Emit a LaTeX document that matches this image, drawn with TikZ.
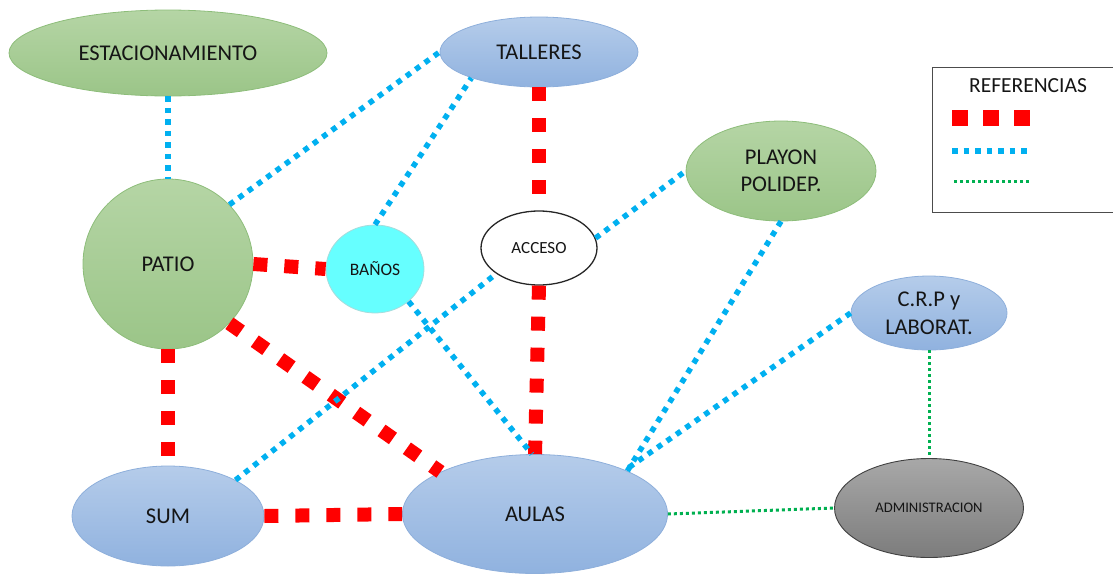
\documentclass[tikz,border=0pt]{standalone}
\usepackage{fontspec}
\setmainfont{Carlito}
\usetikzlibrary{shapes.geometric}
\definecolor{gtop}{HTML}{B5D5A5}
\definecolor{gbot}{HTML}{9BC588}
\definecolor{gbrd}{HTML}{8DBD7A}
\definecolor{btop}{HTML}{B5CCEA}
\definecolor{bbot}{HTML}{90B2DF}
\definecolor{bbrd}{HTML}{8EAFDB}
\definecolor{ytop}{HTML}{A8A8A8}
\definecolor{ybot}{HTML}{7C7C7C}
\definecolor{ybrd}{HTML}{404040}
\definecolor{cyanfill}{HTML}{66FFFF}
\definecolor{cyanbrd}{HTML}{A6DCDC}
\definecolor{bluedot}{HTML}{00B0F0}
\definecolor{greendot}{HTML}{00B050}
\definecolor{txt}{HTML}{151515}
\definecolor{redsq}{HTML}{FF0000}
\tikzset{
  base/.style={inner sep=0pt, text=txt, align=center},
  greennode/.style={base, ellipse, top color=gtop, bottom color=gbot, draw=gbrd, line width=0.8pt},
  bluenode/.style={base, ellipse, top color=btop, bottom color=bbot, draw=bbrd, line width=0.8pt},
  big/.style={font=\fontsize{22.5}{27}\selectfont},
  redline/.style={draw=redsq, line width=14pt, dash pattern=on 14pt off 17pt},
  blueline/.style={draw=bluedot, line width=5.5pt, dash pattern=on 5.5pt off 6pt},
  greenline/.style={draw=greendot, line width=3pt, dash pattern=on 3pt off 3pt},
}
\begin{document}
\begin{tikzpicture}[x=1pt,y=-1pt]
\useasboundingbox (0,0) rectangle (1113,573);
\clip (0,0) rectangle (1113,573);
% nodes
\node[greennode, big, minimum width=318pt, minimum height=86pt] (estac) at (168,53) {ESTACIONAMIENTO};
\node[bluenode, big, minimum width=198pt, minimum height=70pt] (talleres) at (539,52) {TALLERES};
\node[greennode, big, minimum width=190pt, minimum height=100pt] (playon) at (781,171) {PLAYON\\POLIDEP.};
\node[greennode, big, circle, minimum size=170pt] (patio) at (168,264) {PATIO};
\node[base, ellipse, fill=cyanfill, draw=cyanbrd, line width=0.8pt, minimum width=98pt, minimum height=88pt, font=\fontsize{17.5}{20}\selectfont] (banos) at (375,269) {BAÑOS};
\node[base, ellipse, fill=white, draw=black!85, line width=1.3pt, minimum width=116pt, minimum height=74pt, font=\fontsize{17}{20}\selectfont] (acceso) at (539,248) {ACCESO};
\node[bluenode, minimum width=156pt, minimum height=74pt, font=\fontsize{22.5}{28}\selectfont] (crp) at (929,313) {C.R.P y\\LABORAT.};
\node[bluenode, big, minimum width=192pt, minimum height=100pt] (sum) at (168,516) {SUM};
\node[bluenode, big, minimum width=265pt, minimum height=119pt] (aulas) at (535,514) {AULAS};
\node[base, ellipse, top color=ytop, bottom color=ybot, draw=ybrd, line width=0.9pt, minimum width=189pt, minimum height=99pt, font=\fontsize{14.6}{17}\selectfont] (admin) at (929,508) {ADMINISTRACION};
% red connectors
\draw[redline] (talleres.south) -- (acceso.north);
\draw[redline] (acceso.south) -- (aulas.north);
\draw[redline] (patio.east) -- (banos.west);
\draw[redline] (patio.south) -- (sum.north);
\draw[redline] (patio.-44) -- (aulas.156);
\draw[redline] (sum.east) -- (aulas.west);
% blue connectors
\draw[blueline] (estac.south) -- (patio.north);
\draw[blueline] (patio.44) -- (talleres.west);
\draw[blueline] (banos.north) -- (talleres.201);
\draw[blueline] (banos.-44) -- (aulas.93);
\draw[blueline] (sum.28) -- (acceso.211);
\draw[blueline] (acceso.10) -- (playon.west);
\draw[blueline] (playon.south) -- (aulas.25);
\draw[blueline] (crp.west) -- (aulas.26);
% green connectors
\draw[greenline] (aulas.east) -- (admin.west);
\draw[greenline] (crp.south) -- (admin.north);
% legend
\node[draw=black!70, line width=1.3pt, minimum width=195pt, minimum height=145pt, anchor=north west, inner sep=0pt] (legbox) at (932,67) {};
\node[base, font=\fontsize{21.5}{24}\selectfont] (legtitle) at (1028,86) {REFERENCIAS};
\coordinate (r1) at (952,118); \coordinate (r2) at (1031,118);
\coordinate (b1) at (952,151); \coordinate (b2) at (1032,151);
\coordinate (g1) at (954,181); \coordinate (g2) at (1031,181);
\draw[redline, line width=16pt, dash pattern=on 16pt off 15pt] (r1) -- (r2);
\draw[blueline] (b1) -- (b2);
\draw[greenline] (g1) -- (g2);
\end{tikzpicture}
\end{document}
